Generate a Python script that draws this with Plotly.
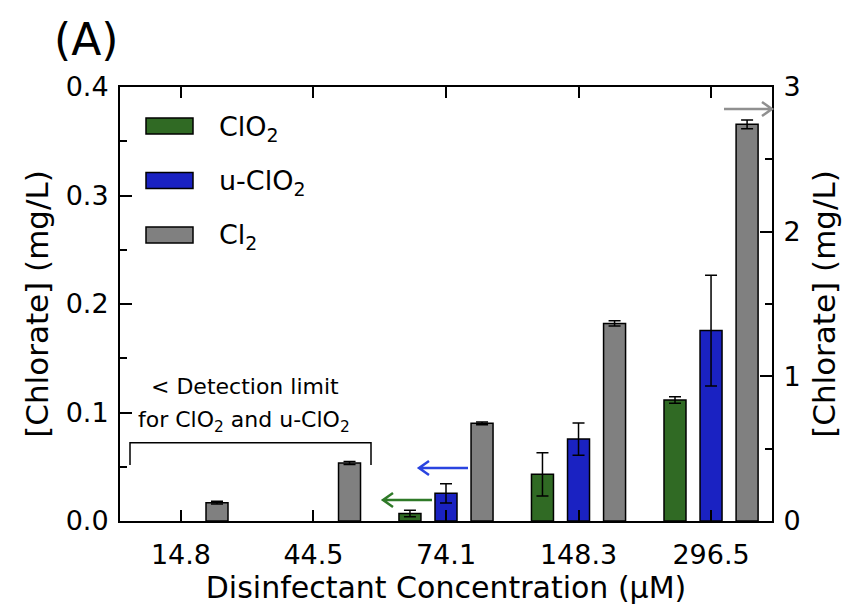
import plotly.graph_objects as go

# ---------------- data ----------------
categories = ["14.8", "44.5", "74.1", "148.3", "296.5"]
clo2_vals = [None, None, 0.007, 0.043, 0.1115]
clo2_err = [0, 0, 0.003, 0.020, 0.003]
uclo2_vals = [None, None, 0.0255, 0.0755, 0.1755]
uclo2_err = [0, 0, 0.0088, 0.0148, 0.051]
cl2_vals = [0.127, 0.401, 0.675, 1.366, 2.742]
cl2_err = [0.01, 0.01, 0.01, 0.018, 0.03]
series_names = ["ClO<sub>2</sub>", "u-ClO<sub>2</sub>", "Cl<sub>2</sub>"]
series_colors = ["#306a24", "#1a22c2", "#808080"]

FONT = "DejaVu Sans"
W, H = 850, 615
L, R, T, B = 120, 78, 87, 94
PW, PH = W - L - R, H - T - B


def px(x):
    return (x - L) / PW


def py(y):
    return (H - B - y) / PH


xidx = list(range(len(categories)))
bar_w = 0.166
step = 0.272

fig = go.Figure()
specs = [
    (clo2_vals, clo2_err, "y", -step),
    (uclo2_vals, uclo2_err, "y", 0.0),
    (cl2_vals, cl2_err, "y2", step),
]
for (vals, errs, yax, shift), name, col in zip(specs, series_names, series_colors):
    fig.add_trace(go.Bar(
        x=xidx, y=vals, name=name, yaxis=yax,
        width=bar_w, offset=shift - bar_w / 2,
        marker=dict(color=col, line=dict(color="black", width=1.5)),
        error_y=dict(type="data", array=errs, color="black", thickness=1.5, width=6, visible=True),
        showlegend=False,
    ))

axis_common = dict(showline=True, linecolor="black", linewidth=2, ticks="inside",
                   tickcolor="black", tickwidth=1.5, showgrid=False, zeroline=False,
                   tickfont=dict(family=FONT, size=27, color="black"))

fig.update_layout(
    width=W, height=H,
    margin=dict(l=L, r=R, t=T, b=B, pad=0),
    paper_bgcolor="white", plot_bgcolor="white",
    barmode="overlay",
    font=dict(family=FONT, color="black"),
    xaxis=dict(**axis_common, range=[-0.46, 4.46], tickvals=xidx, ticktext=categories,
               ticklen=11, mirror="ticks", ticklabelstandoff=9,
               title=dict(text="Disinfectant Concentration (µM)",
                          font=dict(family=FONT, size=30, color="black"), standoff=7)),
    yaxis=dict(**axis_common, range=[0, 0.4], dtick=0.1, tickformat=".1f", ticklen=12,
               minor=dict(dtick=0.05, ticks="inside", ticklen=7, tickcolor="black", tickwidth=1.5),
               ticklabelstandoff=4,
               title=dict(text="[Chlorate] (mg/L)", font=dict(family=FONT, size=31, color="black"),
                          standoff=8)),
    yaxis2=dict(**axis_common, overlaying="y", side="right", range=[0, 3], dtick=1, ticklen=12,
                minor=dict(dtick=0.5, ticks="inside", ticklen=7, tickcolor="black", tickwidth=1.5),
                ticklabelstandoff=4,
                title=dict(text="[Chlorate] (mg/L)", font=dict(family=FONT, size=31, color="black"),
                           standoff=14)),
)

shapes = []
annotations = []

# legend (custom, box swatches)
leg_rows = [126, 180.5, 235]
for yc, name, col in zip(leg_rows, series_names, series_colors):
    shapes.append(dict(type="rect", xref="paper", yref="paper",
                       x0=px(146), x1=px(193), y0=py(yc + 8), y1=py(yc - 8),
                       fillcolor=col, line=dict(color="black", width=1.5)))
    annotations.append(dict(xref="paper", yref="paper", x=px(217), y=py(yc + 2),
                            text=name, showarrow=False, xanchor="left", yanchor="middle",
                            font=dict(family=FONT, size=27, color="black")))

# panel label
annotations.append(dict(xref="paper", yref="paper", x=px(52), y=py(40), text="(A)",
                        showarrow=False, xanchor="left", yanchor="middle",
                        font=dict(family=FONT, size=44, color="black")))

# detection-limit bracket and text
shapes.append(dict(type="path", xref="paper", yref="paper",
                   path=f"M {px(130)} {py(465)} L {px(130)} {py(442.7)} L {px(371)} {py(442.7)} L {px(371)} {py(465)}",
                   line=dict(color="black", width=1.5)))
annotations.append(dict(xref="paper", yref="paper", x=px(245), y=py(386),
                        text="&lt; Detection limit", showarrow=False,
                        xanchor="center", yanchor="middle",
                        font=dict(family=FONT, size=22, color="black")))
annotations.append(dict(xref="paper", yref="paper", x=px(244), y=py(421),
                        text="for ClO<sub>2</sub> and u-ClO<sub>2</sub>", showarrow=False,
                        xanchor="center", yanchor="middle",
                        font=dict(family=FONT, size=22, color="black")))


def arrow(x_start, x_tip, y, color):
    d = 10 if x_tip < x_start else -10
    path = (f"M {px(x_start)} {py(y)} L {px(x_tip)} {py(y)} "
            f"M {px(x_tip + d)} {py(y - 7)} L {px(x_tip)} {py(y)} L {px(x_tip + d)} {py(y + 7)}")
    shapes.append(dict(type="path", xref="paper", yref="paper", path=path,
                       line=dict(color=color, width=2.5)))


arrow(432, 383, 500, "#2f7a28")
arrow(468, 419, 468, "#2a44e0")
arrow(724, 772, 109, "#909090")

fig.update_layout(shapes=shapes, annotations=annotations)
fig.write_html("out.html")
